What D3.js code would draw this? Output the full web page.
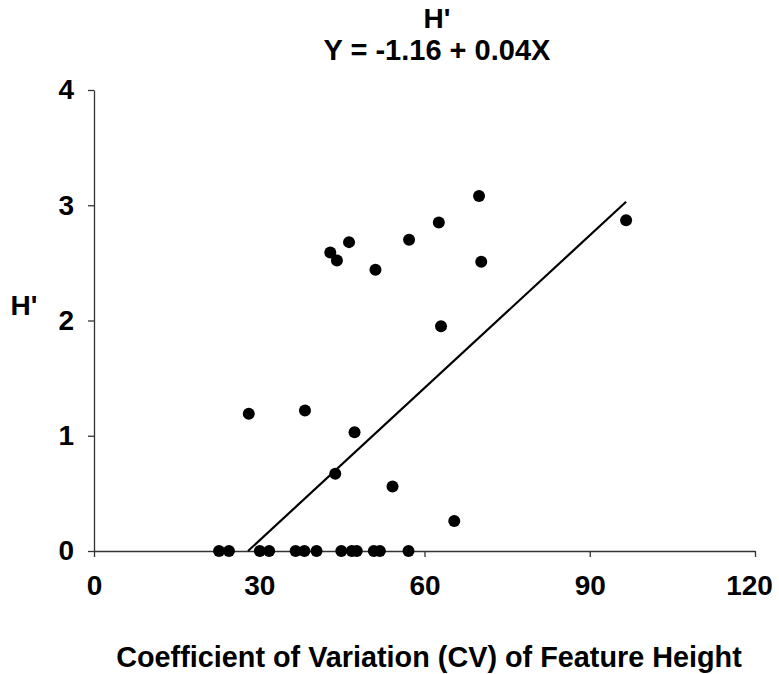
<!DOCTYPE html>
<html><head><meta charset="utf-8">
<script src="https://cdn.jsdelivr.net/npm/d3@7"></script>
<style>body{margin:0;background:#fff}svg{display:block}text{font-family:"Liberation Sans",Arial,sans-serif;font-weight:bold;fill:#000}</style>
</head><body><svg id="c" width="779" height="674"></svg>
<script>
const cvValues = [22.7,24.5,30.1,31.8,36.6,38.2,40.4,44.9,46.8,47.7,50.8,51.9,57.1,
  28.1,38.3,47.3,43.8,54.2,65.4,63.0,57.2,62.6,69.9,70.3,96.6,46.3,42.9,44.1,51.1];
const hValues  = [0,0,0,0,0,0,0,0,0,0,0,0,0,
  1.19,1.22,1.03,0.67,0.56,0.26,1.95,2.70,2.85,3.08,2.51,2.87,2.68,2.59,2.52,2.44];
const fitX = [27.96, 96.6];
const fitY = [0, 3.03];
const xTicks = [0,30,60,90,120];
const yTicks = [0,1,2,3,4];
const titleText = "H'";
const equationText = "Y = -1.16 + 0.04X";
const xTitle = "Coefficient of Variation (CV) of Feature Height";
const yTitle = "H'";

const svg = d3.select("#c");
const x = d3.scaleLinear().domain([0,120]).range([94,755]);
const y = d3.scaleLinear().domain([0,4]).range([551,90]);

const xa = svg.append("g").attr("transform","translate(0,551)")
  .call(d3.axisBottom(x).tickValues(xTicks).tickFormat(d3.format("d")).tickSize(6).tickSizeOuter(0).tickPadding(18));
const ya = svg.append("g").attr("transform","translate(94,0)")
  .call(d3.axisLeft(y).tickValues(yTicks).tickFormat(d3.format("d")).tickSize(6).tickSizeOuter(0).tickPadding(14));
[xa,ya].forEach(g=>{
  g.select(".domain").attr("stroke","#333").attr("stroke-width",1.3);
  g.selectAll(".tick line").attr("stroke","#333").attr("stroke-width",1.3);
  g.selectAll("text").attr("font-size",28).attr("font-family","Liberation Sans, Arial").attr("font-weight","bold").attr("fill","#000");
});
xa.selectAll(".tick text").filter(d=>d===120).attr("dx",-6);

svg.append("line")
  .attr("x1",x(fitX[0])).attr("y1",y(fitY[0]))
  .attr("x2",x(fitX[1])).attr("y2",y(fitY[1]))
  .attr("stroke","#000").attr("stroke-width",2.2);

svg.append("g").selectAll("circle").data(cvValues.map((v,i)=>[v,hValues[i]]))
  .join("circle").attr("cx",d=>x(d[0])).attr("cy",d=>y(d[1])).attr("r",6).attr("fill","#000");

svg.append("text").attr("x",437).attr("y",28).attr("text-anchor","middle").attr("font-size",28).text(titleText);
svg.append("text").attr("x",437).attr("y",60).attr("text-anchor","middle").attr("font-size",29).text(equationText);
svg.append("text").attr("x",429).attr("y",667).attr("text-anchor","middle").attr("font-size",28.8).text(xTitle);
svg.append("text").attr("x",24).attr("y",315).attr("text-anchor","middle").attr("font-size",28).text(yTitle);
</script></body></html>
